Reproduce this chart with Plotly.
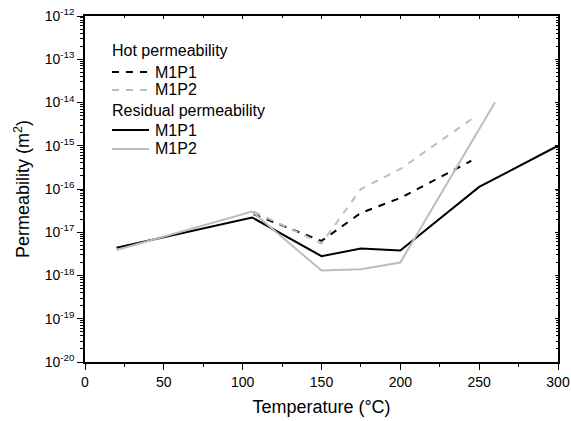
import plotly.graph_objects as go

# Residual permeability
res_t = [20, 106, 150, 175, 200, 250, 300]
res_m1p1 = [4.4e-18, 2.2e-17, 2.8e-18, 4.2e-18, 3.8e-18, 1.12e-16, 1.0e-15]
res_t2 = [20, 106, 150, 175, 200, 250, 260]
res_m1p2 = [3.9e-18, 3.0e-17, 1.3e-18, 1.4e-18, 2.0e-18, 2.3e-15, 1.0e-14]

# Hot permeability
hot_t1 = [107, 150, 175, 200, 245]
hot_m1p1 = [2.6e-17, 6.3e-18, 2.8e-17, 6.2e-17, 4.5e-16]
hot_t2 = [107, 150, 175, 200, 247]
hot_m1p2 = [3.0e-17, 5.5e-18, 1.0e-16, 2.9e-16, 4.6e-15]

y_major = [10.0 ** e for e in range(-20, -11)]
y_labels = [f"10<sup>{e}</sup>" for e in range(-20, -11)]
y_minor = [m * 10.0 ** e for e in range(-20, -12) for m in range(2, 10)]
x_ticks = [0, 50, 100, 150, 200, 250, 300]

legend_groups = ["Hot permeability", "Residual permeability"]
legend_names = ["M1P1", "M1P2"]

BLACK = "#000000"
GRAY = "#bdbdbd"
FONT = "Liberation Sans, Arial, sans-serif"
DASH = "7px,7px"

fig = go.Figure()
series = [
    (hot_t1, hot_m1p1, BLACK, DASH),
    (hot_t2, hot_m1p2, GRAY, DASH),
    (res_t, res_m1p1, BLACK, "solid"),
    (res_t2, res_m1p2, GRAY, "solid"),
]
for i, (xs, ys, col, dash) in enumerate(series):
    fig.add_trace(go.Scatter(x=xs, y=ys, mode="lines",
                             name=f"{legend_groups[i // 2]} {legend_names[i % 2]}",
                             line=dict(color=col, width=2, dash=dash),
                             showlegend=False))

# Manual legend (pixel layout converted to plot-area paper coordinates)
L, R, T, B = 85, 558, 16, 362
def px(x):
    return (x - L) / (R - L)
def py(y):
    return (B - y) / (B - T)

rows = [
    ("title", legend_groups[0], 50, None, None),
    ("item", legend_names[0], 72, BLACK, DASH),
    ("item", legend_names[1], 90, GRAY, DASH),
    ("title", legend_groups[1], 111, None, None),
    ("item", legend_names[0], 130, BLACK, "solid"),
    ("item", legend_names[1], 149, GRAY, "solid"),
]
for kind, text, ypix, col, dash in rows:
    if kind == "title":
        fig.add_annotation(x=px(110), y=py(ypix), xref="paper", yref="paper",
                           text=text, showarrow=False, xanchor="left", yanchor="middle",
                           font=dict(family=FONT, size=16, color="black"))
    else:
        fig.add_shape(type="line", xref="paper", yref="paper",
                      x0=px(112), x1=px(149), y0=py(ypix), y1=py(ypix),
                      line=dict(color=col, width=2, dash=dash))
        fig.add_annotation(x=px(153), y=py(ypix), xref="paper", yref="paper",
                           text=text, showarrow=False, xanchor="left", yanchor="middle",
                           font=dict(family=FONT, size=16, color="black"))

axis_common = dict(showgrid=False, zeroline=False, linecolor="black", linewidth=1.5,
                   automargin=False,
                   tickcolor="black", tickfont=dict(family=FONT, size=14, color="black"))

fig.update_layout(
    width=571, height=421,
    margin=dict(l=L, r=571 - R, t=T, b=421 - B),
    plot_bgcolor="white", paper_bgcolor="white",
    font=dict(family=FONT, color="black"),
    showlegend=False,
    xaxis=dict(range=[0, 300], tickvals=x_ticks, ticks="outside", ticklen=6, tickwidth=1,
               minor=dict(dtick=25, tick0=0, ticks="outside", ticklen=3, tickcolor="black"),
               title=dict(text="Temperature (°C)", font=dict(family=FONT, size=18), standoff=12),
               mirror=True, **axis_common),
    yaxis=dict(type="log", range=[-20, -12], tickvals=y_major, ticktext=y_labels,
               ticks="outside", ticklen=6, tickwidth=1,
               minor=dict(tickvals=y_minor, ticks="outside", ticklen=3, tickcolor="black"),
               title=dict(text="Permeability (m<sup>2</sup>)", font=dict(family=FONT, size=18), standoff=10),
               mirror=True, **axis_common),
    xaxis2=dict(overlaying="x", side="top", range=[0, 300], tickvals=x_ticks,
                ticks="inside", ticklen=3, showticklabels=False, showgrid=False,
                tickcolor="black", showline=False, zeroline=False, automargin=False,
                minor=dict(dtick=25, tick0=0, ticks="inside", ticklen=2, tickcolor="black")),
    yaxis2=dict(overlaying="y", side="right", type="log", range=[-20, -12], tickvals=y_major,
                ticks="inside", ticklen=3, showticklabels=False, showgrid=False,
                tickcolor="black", showline=False, zeroline=False, automargin=False,
                minor=dict(tickvals=y_minor, ticks="inside", ticklen=2, tickcolor="black")),
)
fig.add_trace(go.Scatter(x=[0], y=[1e-20], xaxis="x2", yaxis="y2", mode="none",
                         showlegend=False, hoverinfo="skip"))

fig.write_html("out.html")
